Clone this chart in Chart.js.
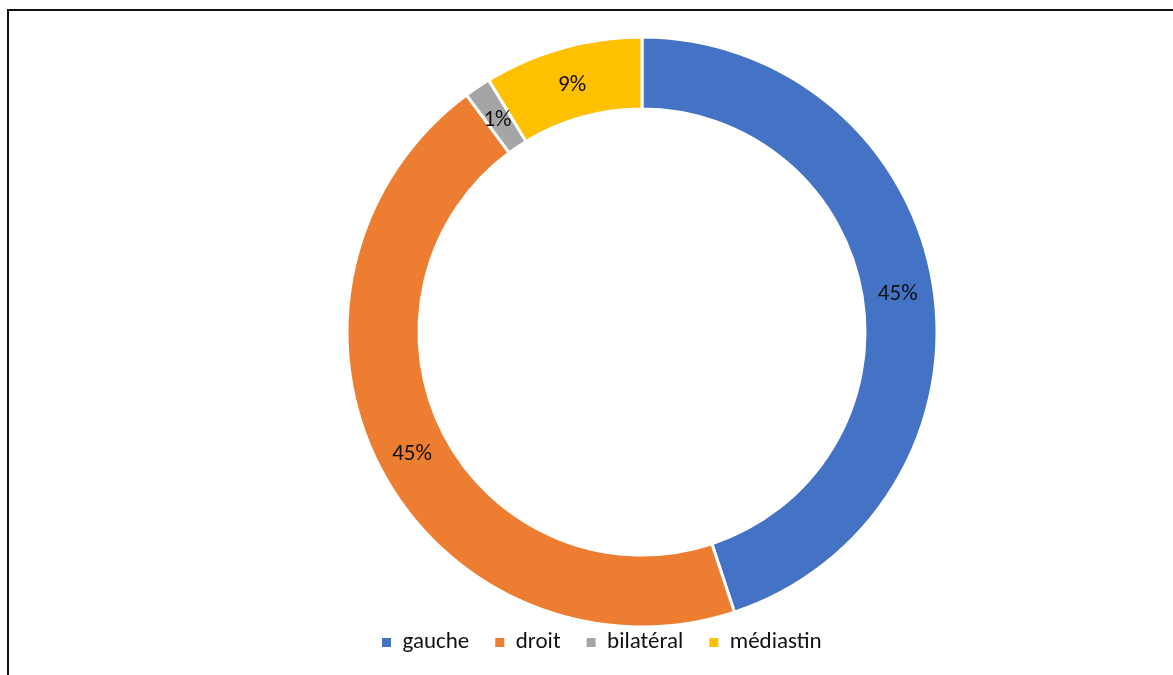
<!DOCTYPE html>
<html>
<head>
<meta charset="utf-8">
<script src="https://cdn.jsdelivr.net/npm/chart.js@4/dist/chart.umd.min.js"></script>
<style>
  html, body { margin: 0; padding: 0; background: #ffffff; }
  #wrap { position: relative; width: 1173px; height: 675px; overflow: hidden; }
  #frame { position: absolute; left: 7px; top: 9px; width: 1200px; height: 700px;
           border-left: 2px solid #111; border-top: 2px solid #111; box-sizing: border-box; }
  canvas { position: absolute; left: 0; top: 0; }
</style>
</head>
<body>
<div id="wrap">
  <div id="frame"></div>
  <canvas id="c" width="1173" height="675"></canvas>
</div>
<script>
const categories = ['gauche', 'droit', 'bilatéral', 'médiastin'];
const counts = [31, 31, 1, 6];
const colors = ['#4472C4', '#ED7D31', '#A5A5A5', '#FFC000'];

const FONT = "Carlito, Calibri, Lato, 'Liberation Sans', sans-serif";
const FONT_SIZE = 23;

const pctLabels = {
  id: 'pctLabels',
  afterDatasetsDraw(chart) {
    const ctx = chart.ctx;
    const meta = chart.getDatasetMeta(0);
    const data = chart.data.datasets[0].data;
    const total = data.reduce((a, b) => a + b, 0);
    ctx.save();
    ctx.font = FONT_SIZE + 'px ' + FONT;
    ctx.fillStyle = '#111';
    ctx.textAlign = 'center';
    ctx.textBaseline = 'middle';
    meta.data.forEach((arc, i) => {
      const p = arc.tooltipPosition();
      const pct = Math.round(data[i] / total * 100) + '%';
      ctx.fillText(pct, p.x, p.y + 3);
    });
    ctx.restore();
  }
};

new Chart(document.getElementById('c'), {
  type: 'doughnut',
  data: {
    labels: categories,
    datasets: [{
      data: counts,
      backgroundColor: colors,
      borderColor: '#ffffff',
      borderWidth: 3,
      hoverOffset: 0
    }]
  },
  options: {
    responsive: false,
    animation: false,
    radius: 295,
    cutout: '75.6%',
    layout: { padding: { top: 59, left: 356, right: 245, bottom: 11 } },
    plugins: {
      tooltip: { enabled: false },
      legend: {
        position: 'bottom',
        align: 'start',
        labels: {
          boxWidth: 9,
          boxHeight: 9,
          padding: 26,
          color: '#111',
          font: { family: FONT, size: FONT_SIZE },
          generateLabels(chart) {
            const items = Chart.overrides.doughnut.plugins.legend.labels.generateLabels(chart);
            items.forEach(it => { it.lineWidth = 0; it.strokeStyle = it.fillStyle; });
            return items;
          }
        }
      }
    }
  },
  plugins: [pctLabels]
});
</script>
</body>
</html>
